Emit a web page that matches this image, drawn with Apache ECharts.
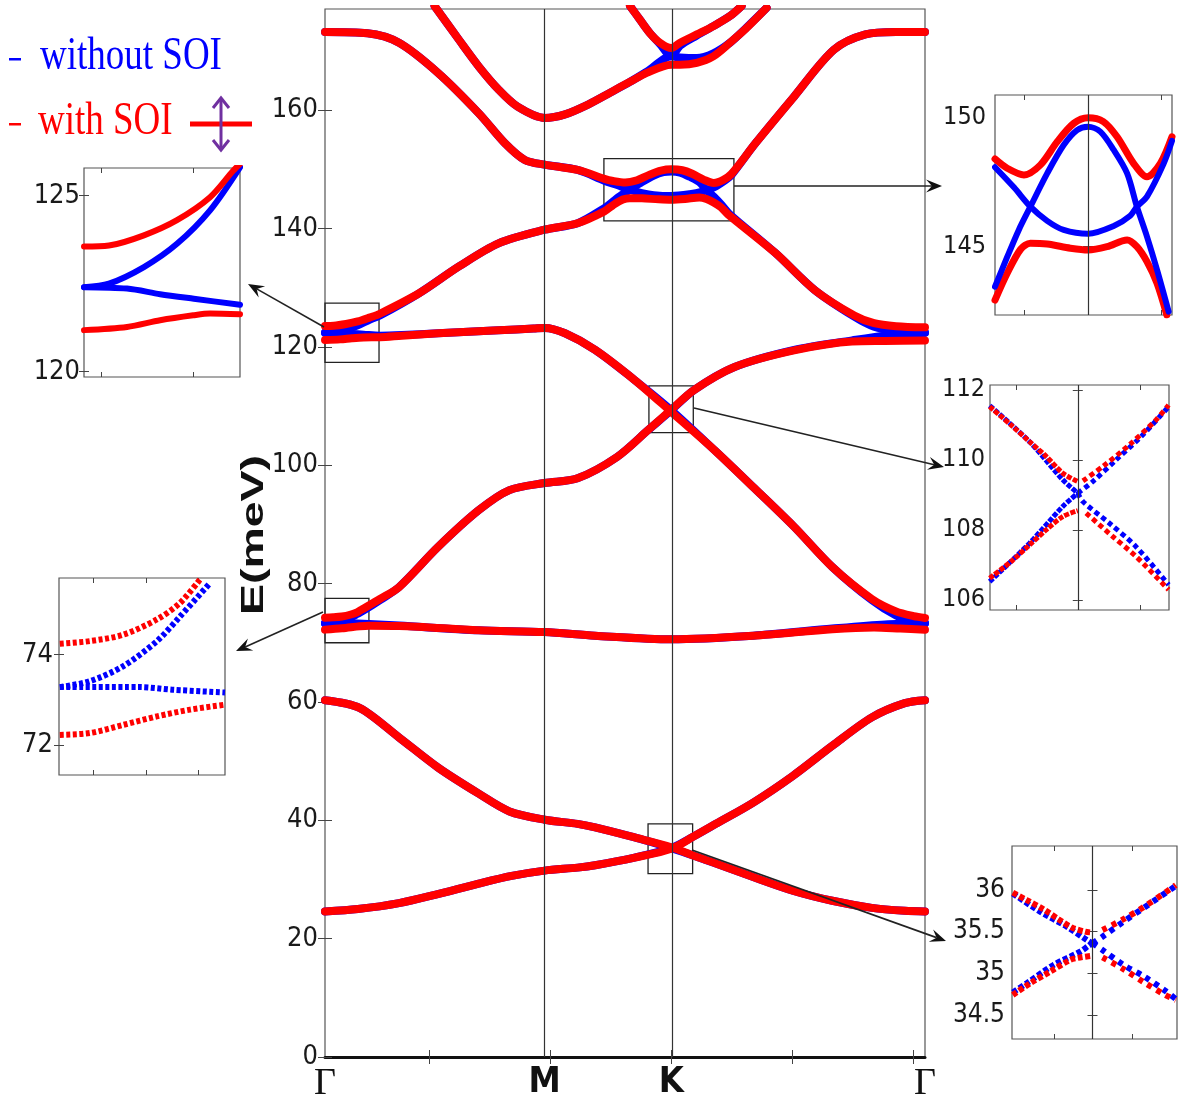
<!DOCTYPE html>
<html><head><meta charset="utf-8">
<script src="https://cdn.jsdelivr.net/npm/echarts@6/dist/echarts.min.js"></script>
<style>html,body{margin:0;padding:0;background:#fff}#c{width:1190px;height:1105px}</style>
</head><body><div id="c"></div>
<script>
// ---------- axis / tick data ----------
const kPoints = [0, 1, 1.5774, 2.7321];
const kLabels = ['Γ', 'M', 'K', 'Γ'];
const kMinorTicks = [0.475, 1.026, 1.577, 2.128, 2.679];
const eTicks = [0, 20, 40, 60, 80, 100, 120, 140, 160];
const zoomBoxes = [[0, 0.246, 117.4, 127.4], [0, 0.2, 70.0, 77.5], [1.27, 1.862, 141.3, 151.8], [1.475, 1.677, 105.5, 113.4], [1.471, 1.674, 31.0, 39.4]];

// ---------- main panel: without SOI (blue) ----------
const blue1 = [[0,24.6],[0.15,25.0],[0.337,26.0],[0.5,27.4],[0.70,29.3],[0.85,30.6],[1.0,31.5],[1.15,32.0],[1.23,32.4],[1.41,33.7],[1.577,35.3],[1.68,37.3],[1.78,39.4],[1.95,43.0],[2.13,47.5],[2.31,52.6],[2.49,57.4],[2.64,59.8],[2.732,60.3]];
const blue2 = [[0,60.3],[0.157,59.0],[0.337,54.0],[0.515,48.9],[0.70,44.5],[0.84,41.5],[1.0,40.1],[1.15,39.4],[1.23,38.8],[1.41,37.1],[1.577,35.3],[1.68,34.0],[1.78,32.7],[1.95,30.4],[2.13,28.1],[2.31,26.4],[2.49,25.2],[2.64,24.7],[2.732,24.6]];
const blue3 = [[0,73.3],[0.097,73.28],[0.2,73.16],[0.337,72.9],[0.70,72.1],[1.0,71.8],[1.23,71.2],[1.577,70.6],[1.95,71.2],[2.31,72.4],[2.55,73.1],[2.732,73.3]];
const blue4 = [[0,73.28],[0.037,73.41],[0.077,73.74],[0.118,74.3],[0.146,74.85],[0.182,75.59],[0.25,77.2],[0.337,79.4],[0.515,86.2],[0.70,92.4],[0.84,95.8],[1.0,97.0],[1.15,97.8],[1.33,101.4],[1.47,105.9],[1.577,109.3],[1.68,112.7],[1.865,116.6],[2.136,119.5],[2.40,121.1],[2.55,121.9],[2.732,122.4]];
const blue5 = [[0,122.4],[0.069,122.36],[0.122,122.2],[0.176,122.07],[0.25,121.9],[0.35,122.0],[0.515,122.3],[0.79,122.8],[0.95,123.1],[1.0,123.2],[1.093,122.3],[1.23,119.5],[1.41,114.4],[1.577,109.3],[1.775,102.5],[1.95,96.3],[2.136,89.6],[2.31,82.8],[2.49,77.2],[2.60,74.6],[2.68,73.6],[2.732,73.3]];
const blue6 = [[0,122.4],[0.04,122.5],[0.096,122.97],[0.149,123.63],[0.202,124.58],[0.25,125.3],[0.43,129.1],[0.61,133.6],[0.79,137.5],[1.0,139.8],[1.15,140.9],[1.272,143.45],[1.312,144.6],[1.35,145.65],[1.388,146.55],[1.443,147.84],[1.497,148.94],[1.541,149.52],[1.577,149.65],[1.617,149.46],[1.661,148.75],[1.705,147.84],[1.737,146.55],[1.77,145.39],[1.803,144.1],[1.841,142.48],[2.05,135.9],[2.23,129.6],[2.41,125.1],[2.50,123.4],[2.60,122.7],[2.732,122.4]];
const blue7 = [[0,173.2],[0.193,173.0],[0.337,171.4],[0.515,166.3],[0.70,159.5],[0.82,154.4],[0.91,151.6],[1.0,150.8],[1.15,149.9],[1.272,148.08],[1.334,147.3],[1.388,146.55],[1.443,146.0],[1.497,145.65],[1.577,145.5],[1.661,145.8],[1.715,146.2],[1.77,146.94],[1.824,148.2],[1.852,149.1],[1.96,154.4],[2.136,162.3],[2.317,170.2],[2.461,172.8],[2.60,173.2],[2.732,173.2]];
const blue8 = [[0.499,177.6],[0.61,171.9],[0.70,167.4],[0.79,163.5],[0.877,160.6],[1.0,158.7],[1.093,159.3],[1.2,161.0],[1.3,163.0],[1.389,164.8],[1.465,166.5],[1.577,169.1],[1.617,168.9],[1.693,168.8],[1.768,169.6],[1.844,171.4],[1.92,174.0],[2.011,177.3]];
const blue9 = [[1.389,177.6],[1.434,175.3],[1.48,173.0],[1.525,171.2],[1.577,169.1],[1.617,170.9],[1.693,172.6],[1.768,174.2],[1.844,175.9],[1.897,177.6]];

// ---------- main panel: with SOI (red) ----------
const red1 = [[0,24.6],[0.15,25.0],[0.337,26.0],[0.5,27.4],[0.70,29.3],[0.85,30.6],[1.0,31.5],[1.15,32.0],[1.23,32.4],[1.41,33.7],[1.577,35.2],[1.68,37.3],[1.78,39.4],[1.95,43.0],[2.13,47.5],[2.31,52.6],[2.49,57.4],[2.64,59.8],[2.732,60.3]];
const red2 = [[0,60.3],[0.157,59.0],[0.337,54.0],[0.515,48.9],[0.70,44.5],[0.84,41.5],[1.0,40.1],[1.15,39.4],[1.23,38.8],[1.41,37.1],[1.577,35.45],[1.68,34.0],[1.78,32.7],[1.95,30.4],[2.13,28.1],[2.31,26.4],[2.49,25.2],[2.64,24.7],[2.732,24.6]];
const red3 = [[0,72.22],[0.077,72.44],[0.158,72.78],[0.2,72.89],[0.337,72.85],[0.70,72.1],[1.0,71.8],[1.23,71.2],[1.577,70.6],[1.95,71.2],[2.31,72.3],[2.50,72.6],[2.62,72.4],[2.732,72.2]];
const red4 = [[0,74.24],[0.037,74.3],[0.077,74.44],[0.118,74.78],[0.146,75.15],[0.17,75.67],[0.25,77.4],[0.337,79.4],[0.515,86.2],[0.70,92.4],[0.84,95.8],[1.0,97.0],[1.15,97.8],[1.33,101.4],[1.47,105.9],[1.577,109.4],[1.68,112.7],[1.865,116.6],[2.136,119.4],[2.40,120.9],[2.55,121.0],[2.732,121.1]];
const red5 = [[0,121.18],[0.069,121.27],[0.122,121.46],[0.176,121.6],[0.25,121.63],[0.35,121.9],[0.515,122.3],[0.79,122.8],[0.95,123.1],[1.0,123.2],[1.093,122.3],[1.23,119.5],[1.41,114.4],[1.577,109.0],[1.775,102.5],[1.95,96.3],[2.136,89.6],[2.31,82.8],[2.49,77.4],[2.60,75.3],[2.68,74.5],[2.732,74.2]];
const red6 = [[0,123.55],[0.04,123.58],[0.096,123.87],[0.149,124.3],[0.202,124.95],[0.25,125.6],[0.43,129.1],[0.61,133.6],[0.79,137.5],[1.0,139.8],[1.15,140.9],[1.272,142.9],[1.312,143.97],[1.356,144.9],[1.388,145.13],[1.443,145.1],[1.519,144.94],[1.577,144.87],[1.639,145.0],[1.705,145.26],[1.737,145.0],[1.77,144.4],[1.803,143.6],[1.835,142.4],[2.05,135.9],[2.23,129.6],[2.41,125.3],[2.50,124.0],[2.60,123.5],[2.732,123.3]];
const red7 = [[0,173.2],[0.193,173.0],[0.337,171.4],[0.515,166.3],[0.70,159.5],[0.82,154.4],[0.91,151.6],[1.0,150.8],[1.15,149.9],[1.272,148.4],[1.312,148.04],[1.367,147.78],[1.421,148.17],[1.476,149.07],[1.53,149.78],[1.577,150.0],[1.627,149.85],[1.672,149.26],[1.726,148.23],[1.77,147.71],[1.814,148.23],[1.852,149.26],[1.96,154.4],[2.136,162.3],[2.317,170.2],[2.461,172.8],[2.60,173.2],[2.732,173.2]];
const red8 = [[0.499,177.6],[0.61,171.9],[0.70,167.4],[0.79,163.5],[0.877,160.6],[1.0,158.7],[1.093,159.3],[1.2,161.0],[1.3,163.0],[1.389,164.8],[1.465,166.3],[1.577,167.7],[1.617,167.7],[1.693,168.0],[1.768,169.1],[1.844,171.4],[1.92,173.9],[2.011,177.3]];
const red9 = [[1.389,177.6],[1.434,175.3],[1.48,173.0],[1.525,171.4],[1.577,170.5],[1.617,171.4],[1.693,172.8],[1.768,174.2],[1.844,175.9],[1.897,177.6]];

// ---------- inset A (Γ, ~122 meV) ----------
const insA_redUp = [[0,123.55],[0.04,123.58],[0.096,123.87],[0.149,124.3],[0.202,124.95],[0.239,125.7],[0.25,125.9]];
const insA_blueUp = [[0,122.4],[0.04,122.5],[0.096,122.97],[0.149,123.63],[0.202,124.58],[0.25,125.8]];
const insA_blueFlat = [[0,122.4],[0.069,122.36],[0.122,122.2],[0.176,122.07],[0.25,121.9]];
const insA_redLow = [[0,121.18],[0.069,121.27],[0.122,121.46],[0.175,121.6],[0.202,121.65],[0.25,121.63]];
// ---------- inset B (Γ, ~73 meV) ----------
const insB_redUp = [[0.001,74.24],[0.037,74.3],[0.077,74.44],[0.118,74.78],[0.146,75.15],[0.17,75.67]];
const insB_blueUp = [[0.001,73.28],[0.037,73.41],[0.077,73.74],[0.118,74.3],[0.146,74.85],[0.182,75.59]];
const insB_blueFlat = [[0.001,73.28],[0.097,73.28],[0.138,73.22],[0.2,73.16]];
const insB_redLow = [[0.001,72.22],[0.037,72.26],[0.077,72.44],[0.118,72.63],[0.158,72.78],[0.2,72.89]];
// ---------- inset C (K, ~147 meV) ----------
const insC_redUp = [[-0.305,148.4],[-0.265,148.04],[-0.21,147.78],[-0.156,148.17],[-0.101,149.07],[-0.047,149.78],[0,150.0],[0.05,149.85],[0.095,149.26],[0.149,148.23],[0.193,147.71],[0.237,148.23],[0.275,149.26]];
const insC_redLow = [[-0.305,142.93],[-0.265,143.97],[-0.221,144.9],[-0.189,145.13],[-0.134,145.1],[-0.058,144.94],[0,144.87],[0.062,145.0],[0.128,145.26],[0.16,145.0],[0.193,144.42],[0.226,143.58],[0.258,142.35]];
const insC_blueA = [[-0.305,143.45],[-0.265,144.6],[-0.227,145.65],[-0.189,146.55],[-0.134,147.84],[-0.08,148.94],[-0.036,149.52],[0,149.65],[0.04,149.46],[0.084,148.75],[0.128,147.84],[0.16,146.55],[0.193,145.39],[0.226,144.1],[0.264,142.48]];
const insC_blueU = [[-0.305,148.08],[-0.243,147.3],[-0.189,146.55],[-0.134,146.0],[-0.08,145.65],[0,145.5],[0.084,145.8],[0.138,146.2],[0.16,146.55],[0.193,146.94],[0.247,148.2],[0.275,149.1]];
// ---------- inset D (K, ~109 meV) ----------
const insD_redUpL = [[-0.1034,111.52],[-0.0761,110.95],[-0.0566,110.52],[-0.0371,110.1],[-0.0176,109.62],[0,109.38]];
const insD_blueUpL = [[-0.1034,111.55],[-0.0566,110.52],[-0.0176,109.43],[0,109.05]];
const insD_redLowL = [[-0.1034,106.62],[-0.0761,107.14],[-0.0566,107.57],[-0.0371,108.0],[-0.0176,108.38],[0,108.55]];
const insD_blueLowL = [[-0.1034,106.52],[-0.0566,107.62],[-0.0176,108.67],[0,109.05]];
const insD_redUpR = [[0.006,109.40],[0.0293,109.81],[0.0605,110.43],[0.0917,111.14],[0.1065,111.57]];
const insD_blueUpR = [[0,109.05],[0.0176,109.38],[0.0449,110.0],[0.0761,110.71],[0.1065,111.52]];
const insD_redLowR = [[0.0098,108.48],[0.041,107.81],[0.0683,107.24],[0.1065,106.29]];
const insD_blueLowR = [[0,109.05],[0.006,108.81],[0.0371,108.19],[0.0683,107.52],[0.1065,106.43]];
// ---------- inset E (K, ~35 meV) ----------
const insE_redUpL = [[-0.099,35.97],[-0.0816,35.88],[-0.0609,35.77],[-0.0422,35.65],[-0.0257,35.55],[-0.0091,35.50],[-0.0008,35.49]];
const insE_blueUpL = [[-0.099,35.96],[-0.065,35.74],[-0.0319,35.56],[-0.007,35.40],[0,35.36]];
const insE_redLowL = [[-0.099,34.74],[-0.0774,34.88],[-0.0526,35.02],[-0.0277,35.16],[-0.0153,35.19],[-0.0008,35.21]];
const insE_blueLowL = [[-0.099,34.77],[-0.0816,34.88],[-0.0484,35.1],[-0.0153,35.26],[-0.005,35.33],[0,35.36]];
const insE_redUpR = [[0.0124,35.52],[0.0385,35.65],[0.0642,35.80],[0.0903,35.97],[0.1035,36.06]];
const insE_blueUpR = [[0,35.36],[0.0124,35.44],[0.0385,35.62],[0.0642,35.79],[0.1035,36.05]];
const insE_redLowR = [[0.0124,35.19],[0.0385,35.05],[0.0642,34.89],[0.0903,34.74],[0.1035,34.68]];
const insE_blueLowR = [[0,35.36],[0.0124,35.28],[0.0385,35.10],[0.0642,34.96],[0.0903,34.79],[0.1035,34.69]];

// ---------- rendering ----------
const BLUE = '#0000ff', RED = '#ff0000';
const NARROW = "'Liberation Sans Narrow','DejaVu Sans Condensed','Liberation Sans',sans-serif";
const chart = echarts.init(document.getElementById('c'), null, {renderer: 'canvas'});

const panels = [
  {grid: {left: 325, top: 9, width: 600, height: 1048}, x: [0, 2.7321], xt: kMinorTicks, y: [0, 177.1], yt: eTicks, fs: 27, m: 7, tl: 7},
  {grid: {left: 84, top: 168, width: 156, height: 209}, x: [0, 0.25], xt: [0.027, 0.175], y: [119.85, 125.78], yt: [120, 125], fs: 27, m: 4, tl: 5},
  {grid: {left: 59, top: 578, width: 166, height: 197}, x: [0, 0.2], xt: [0.041, 0.105, 0.168], y: [71.33, 75.70], yt: [72, 74], fs: 27, m: 6, tl: 5},
  {grid: {left: 995, top: 95, width: 177, height: 220}, x: [-0.305, 0.275], xt: [-0.21, 0.24], y: [142.35, 150.88], yt: [145, 150], fs: 25, m: 9, tl: 5},
  {grid: {left: 990, top: 385, width: 179, height: 225}, x: [-0.103, 0.107], xt: [-0.072, 0.073], y: [105.71, 112.14], yt: [106, 108, 110, 112], fs: 25, m: 5, tl: 5},
  {grid: {left: 1012, top: 846, width: 165, height: 193}, x: [-0.1, 0.105], xt: [-0.048, 0.049], y: [34.21, 36.53], yt: [34.5, 35, 35.5, 36], fs: 26, m: 7, tl: 5}
];

const grids = [], xAxes = [], yAxes = [];
panels.forEach((p, gi) => {
  grids.push(Object.assign({show: true, borderColor: '#555', borderWidth: 1.2, backgroundColor: '#fff', containLabel: false}, p.grid));
  const tick = {show: true, inside: true, length: p.tl, customValues: p.xt, lineStyle: {color: '#444', width: 1}};
  xAxes.push({
    gridIndex: gi, type: 'value', min: p.x[0], max: p.x[1], position: 'bottom',
    axisLine: {show: gi === 0, onZero: false, lineStyle: {color: '#111', width: 3}},
    axisTick: tick, splitLine: {show: false},
    axisLabel: gi === 0 ? {
      show: true, customValues: kPoints, margin: 8,
      formatter: v => { const i = kPoints.findIndex(q => Math.abs(q - v) < 1e-6); const t = kLabels[i < 0 ? 0 : i]; return t === 'Γ' ? '{g|Γ}' : '{b|' + t + '}'; },
      rich: {g: {fontFamily: "'Liberation Serif',serif", fontSize: 38, color: '#111'}, b: {fontFamily: NARROW, fontWeight: 'bold', fontSize: 36, color: '#111'}}
    } : {show: false}
  });
  xAxes.push({gridIndex: gi, type: 'value', min: p.x[0], max: p.x[1], position: 'top', axisLine: {show: false}, axisTick: tick, axisLabel: {show: false}, splitLine: {show: false}});
  const ytick = {show: true, inside: true, length: p.tl, customValues: p.yt, lineStyle: {color: '#444', width: 1}};
  yAxes.push({
    gridIndex: gi, type: 'value', min: p.y[0], max: p.y[1], position: 'left',
    axisLine: {show: false}, axisTick: ytick, splitLine: {show: false},
    axisLabel: {show: true, customValues: p.yt, fontFamily: NARROW, fontSize: p.fs, color: '#1a1a1a', margin: p.m, formatter: v => String(v)}
  });
  yAxes.push({gridIndex: gi, type: 'value', min: p.y[0], max: p.y[1], position: 'right', axisLine: {show: false}, axisTick: ytick, axisLabel: {show: false}, splitLine: {show: false}});
});

function line(data, gi, color, width, z, extra) {
  return Object.assign({
    type: 'line', xAxisIndex: 2 * gi, yAxisIndex: 2 * gi, data: data, symbol: 'none', showSymbol: false,
    smooth: 0.3, silent: true, animation: false, z: z, clip: true,
    lineStyle: {color: color, width: width, cap: 'round', join: 'round'}
  }, extra || {});
}
const kLine = pos => ({silent: true, symbol: ['none', 'none'], label: {show: false}, animation: false,
  lineStyle: {color: '#333', width: 1.2, type: 'solid'}, data: pos.map(v => ({xAxis: v}))});

const series = [];
[blue1, blue2, blue3, blue4, blue5, blue6, blue7, blue8, blue9].forEach(d => series.push(line(d, 0, BLUE, 8, 2)));
[red1, red2, red3, red4, red5, red6, red7, red8, red9].forEach(d => series.push(line(d, 0, RED, 8, 3)));
series.push(line([], 0, RED, 1, 4, {
  markLine: kLine([kPoints[1], kPoints[2]]),
  markArea: {silent: true, animation: false, itemStyle: {color: 'rgba(0,0,0,0)', borderColor: '#222', borderWidth: 1.3},
    data: zoomBoxes.map(b => [{xAxis: b[0], yAxis: b[2]}, {xAxis: b[1], yAxis: b[3]}])}
}));
// inset A
series.push(line(insA_blueUp, 1, BLUE, 6, 2), line(insA_blueFlat, 1, BLUE, 6, 2), line(insA_redUp, 1, RED, 6, 3), line(insA_redLow, 1, RED, 6, 3));
// inset B (dotted)
const dotB = {type: [4, 2.5]};
[insB_blueUp, insB_blueFlat].forEach(d => series.push(line(d, 2, BLUE, 6, 2, {lineStyle: Object.assign({color: BLUE, width: 6}, dotB)})));
[insB_redUp, insB_redLow].forEach(d => series.push(line(d, 2, RED, 6, 3, {lineStyle: Object.assign({color: RED, width: 6}, dotB)})));
// inset C
series.push(line(insC_blueA, 3, BLUE, 6, 3), line(insC_blueU, 3, BLUE, 6, 3), line(insC_redUp, 3, RED, 7, 2), line(insC_redLow, 3, RED, 7, 2));
series.push(line([], 3, RED, 1, 4, {markLine: kLine([0])}));
// inset D
const dense = c => ({lineStyle: {color: c, width: 5, type: [5, 1.5]}});
const sparse = c => ({lineStyle: {color: c, width: 5, type: [5, 3.5]}});
[insD_blueUpL, insD_blueLowL].forEach(d => series.push(line(d, 4, BLUE, 5, 2, dense(BLUE))));
[insD_redUpL, insD_redLowL].forEach(d => series.push(line(d, 4, RED, 5, 3, dense(RED))));
[insD_blueUpR, insD_blueLowR].forEach(d => series.push(line(d, 4, BLUE, 5, 2, sparse(BLUE))));
[insD_redUpR, insD_redLowR].forEach(d => series.push(line(d, 4, RED, 5, 3, sparse(RED))));
series.push(line([], 4, RED, 1, 4, {markLine: kLine([0])}));
// inset E
const denseE = c => ({lineStyle: {color: c, width: 6, type: [5, 2.5]}});
const sparseE = c => ({lineStyle: {color: c, width: 6, type: [5, 5.5]}});
[insE_blueUpL, insE_blueLowL].forEach(d => series.push(line(d, 5, BLUE, 6, 2, denseE(BLUE))));
[insE_redUpL, insE_redLowL].forEach(d => series.push(line(d, 5, RED, 6, 3, denseE(RED))));
[insE_blueUpR, insE_blueLowR].forEach(d => series.push(line(d, 5, BLUE, 6, 2, sparseE(BLUE))));
[insE_redUpR, insE_redLowR].forEach(d => series.push(line(d, 5, RED, 6, 3, sparseE(RED))));
series.push(line([], 5, RED, 1, 4, {markLine: kLine([0])}));

// annotations: arrows, legend, axis title
function arrow(x1, y1, x2, y2) {
  const a = Math.atan2(y2 - y1, x2 - x1), ca = Math.cos(a), sa = Math.sin(a);
  const L = 16, W = 6.5, N = 10;
  const bx = x2 - L * ca, by = y2 - L * sa, nx = x2 - N * ca, ny = y2 - N * sa;
  return [
    {type: 'line', silent: true, z: 100, shape: {x1: x1, y1: y1, x2: nx, y2: ny}, style: {stroke: '#222', lineWidth: 1.6}},
    {type: 'polygon', silent: true, z: 100, shape: {points: [[x2, y2], [bx - W * sa, by + W * ca], [nx, ny], [bx + W * sa, by - W * ca]]}, style: {fill: '#111'}}
  ];
}
const graphic = [].concat(
  arrow(324, 327, 248, 284),
  arrow(323, 612, 236, 651),
  arrow(734, 186, 942, 186),
  arrow(694, 408, 944, 467),
  arrow(692, 850, 946, 941),
  [
    {type: 'rect', silent: true, shape: {x: 9, y: 58, width: 12, height: 2.5}, style: {fill: BLUE}},
    {type: 'text', silent: true, x: 40, y: 57, scaleY: 1.25, style: {text: 'without SOI', fill: BLUE, fontSize: 37, fontFamily: "'Liberation Serif',serif", align: 'left', verticalAlign: 'middle'}},
    {type: 'rect', silent: true, shape: {x: 9, y: 123, width: 12, height: 2.5}, style: {fill: RED}},
    {type: 'text', silent: true, x: 38, y: 122, scaleY: 1.25, style: {text: 'with SOI', fill: RED, fontSize: 37, fontFamily: "'Liberation Serif',serif", align: 'left', verticalAlign: 'middle'}},
    {type: 'line', silent: true, shape: {x1: 190, y1: 124, x2: 252, y2: 124}, style: {stroke: RED, lineWidth: 5}},
    {type: 'polyline', silent: true, shape: {points: [[221, 98], [221, 150]]}, style: {stroke: '#7030a0', lineWidth: 3}},
    {type: 'polyline', silent: true, shape: {points: [[213, 108], [221, 98], [229, 108]]}, style: {stroke: '#7030a0', lineWidth: 3, fill: null}},
    {type: 'polyline', silent: true, shape: {points: [[213, 140], [221, 150], [229, 140]]}, style: {stroke: '#7030a0', lineWidth: 3, fill: null}},
    {type: 'text', silent: true, x: 254, y: 535, rotation: Math.PI / 2, scaleX: 1.45, style: {text: 'E(meV)', fill: '#111', fontSize: 32, fontWeight: 'bold', fontFamily: "'Liberation Sans',sans-serif", align: 'center', verticalAlign: 'middle'}}
  ]
);

chart.setOption({
  animation: false,
  backgroundColor: '#fff',
  grid: grids, xAxis: xAxes, yAxis: yAxes, series: series, graphic: graphic
});
</script></body></html>
